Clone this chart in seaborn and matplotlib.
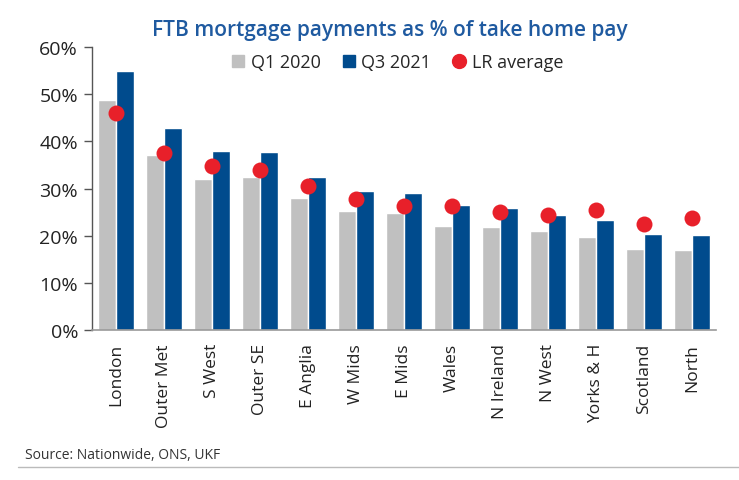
import matplotlib
matplotlib.use("Agg")
import matplotlib.pyplot as plt
from matplotlib.lines import Line2D
import pandas as pd
import seaborn as sns

# values (% of take home pay)
regions = ["London", "Outer Met", "S West", "Outer SE", "E Anglia", "W Mids",
           "E Mids", "Wales", "N Ireland", "N West", "Yorks & H", "Scotland", "North"]
q1_2020 = [48.8, 37.1, 32.0, 32.5, 28.0, 25.2, 24.8, 22.0, 21.8, 21.0, 19.7, 17.2, 17.0]
q3_2021 = [55.0, 42.8, 37.9, 37.8, 32.5, 29.5, 29.0, 26.4, 25.8, 24.4, 23.3, 20.3, 20.2]
lr_average = [46.0, 37.5, 34.7, 33.9, 30.5, 27.8, 26.3, 26.2, 25.0, 24.3, 25.4, 22.5, 23.8]

grey = "#c0c0c0"
blue = "#004b8d"
red = "#e8202a"

bars = pd.DataFrame({
    "Region": regions * 2,
    "Value": q1_2020 + q3_2021,
    "Series": ["Q1 2020"] * len(regions) + ["Q3 2021"] * len(regions),
})
dots = pd.DataFrame({"Region": regions, "Value": lr_average})

sns.set_style("white")
plt.rcParams["font.family"] = ["Open Sans", "DejaVu Sans"]

fig = plt.figure(figsize=(7.39, 4.81), dpi=100)
ax = fig.add_axes([0.1245, 0.312, 0.8445, 0.588])

sns.barplot(data=bars, x="Region", y="Value", hue="Series", order=regions,
            palette={"Q1 2020": grey, "Q3 2021": blue}, width=0.74, gap=0,
            saturation=1, legend=False, ax=ax)
sns.stripplot(data=dots, x="Region", y="Value", order=regions, jitter=False,
              color=red, size=11.5, linewidth=0, zorder=5, ax=ax)

ax.set_xlim(-0.5, len(regions) - 0.5)
ax.set_ylim(0, 60)
ax.set_yticks(range(0, 61, 10))
ax.set_yticklabels([f"{v}%" for v in range(0, 61, 10)], fontsize=14, color="#222222")
ax.set_xticks(range(len(regions)))
ax.set_xticklabels(regions, rotation=90, fontsize=12.5, color="#222222")
ax.set_xlabel("")
ax.set_ylabel("")

for s in ["top", "right"]:
    ax.spines[s].set_visible(False)
ax.spines["left"].set_color("#555555")
ax.spines["bottom"].set_color("#999999")
ax.spines["left"].set_linewidth(1)
ax.spines["bottom"].set_linewidth(1.2)
ax.tick_params(axis="y", which="major", left=True, length=6, width=1, color="#555555", pad=4)
ax.tick_params(axis="x", bottom=False, pad=6)

fig.text(0.528, 0.937, "FTB mortgage payments as % of take home pay", ha="center", va="center",
         fontsize=15, color="#1f5aa0", fontweight="semibold")

handles = [
    Line2D([], [], marker="s", linestyle="none", color=grey, markersize=8),
    Line2D([], [], marker="s", linestyle="none", color=blue, markersize=8),
    Line2D([], [], marker="o", linestyle="none", color=red, markersize=10),
]
fig.legend(handles, ["Q1 2020", "Q3 2021", "LR average"], loc="center",
           bbox_to_anchor=(0.537, 0.869), ncol=3, frameon=False, fontsize=13,
           handletextpad=0.25, columnspacing=1.1, handlelength=0.9)

fig.text(0.034, 0.054, "Source: Nationwide, ONS, UKF", fontsize=10, color="#333333",
         ha="left", va="center")
fig.add_artist(Line2D([0.024, 1.0], [0.027, 0.027], color="#bbbbbb", linewidth=1))

fig.savefig("out.png", dpi=100)
